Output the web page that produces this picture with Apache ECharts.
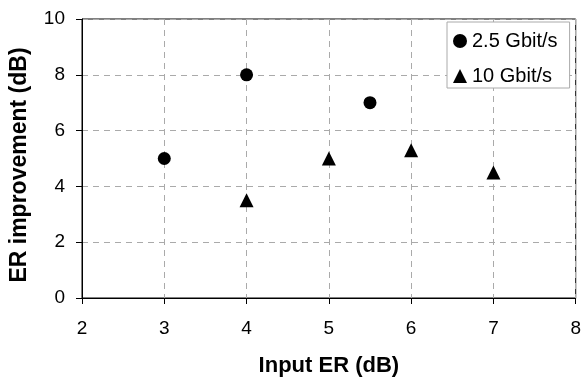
<!DOCTYPE html>
<html>
<head>
<meta charset="utf-8">
<script src="https://cdn.jsdelivr.net/npm/echarts@6/dist/echarts.min.js"></script>
<style>html,body{margin:0;padding:0;background:#fff}#c{width:584px;height:382px}</style>
</head>
<body>
<div id="c"></div>
<script>
const seriesNames = ['2.5 Gbit/s', '10 Gbit/s'];
const inputER_25 = [3, 4, 5.5];
const improvement_25 = [5, 8, 7];
const inputER_10 = [4, 5, 6, 7];
const improvement_10 = [3.5, 5.0, 5.3, 4.5];
const xTitle = 'Input ER (dB)';
const yTitle = 'ER improvement (dB)';

const font = 'Liberation Sans, Arial, sans-serif';
const chart = echarts.init(document.getElementById('c'), null, {renderer: 'canvas'});
const zip = (a, b) => a.map((v, i) => [v, b[i]]);
chart.setOption({
  animation: false,
  backgroundColor: '#fff',
  grid: {left: 81, top: 19, right: 5, bottom: 83, show: true, borderColor: '#000', borderWidth: 1, backgroundColor: 'transparent'},
  legend: {
    orient: 'vertical', left: 447, top: 22,
    backgroundColor: '#fff', borderColor: '#aaa', borderWidth: 1,
    padding: [9, 12, 2, 6], itemGap: 15, itemWidth: 14, itemHeight: 14,
    textStyle: {fontFamily: font, fontSize: 20, color: '#000'},
    itemStyle: {color: '#000', opacity: 1},
    data: [{name: seriesNames[0], icon: 'circle'}, {name: seriesNames[1], icon: 'triangle'}]
  },
  xAxis: {
    type: 'value', min: 2, max: 8, interval: 1,
    name: xTitle, nameLocation: 'middle', nameGap: 57,
    nameTextStyle: {fontFamily: font, fontSize: 22, fontWeight: 'bold', color: '#000'},
    axisLine: {show: true, onZero: false, lineStyle: {color: '#000', width: 1}},
    axisTick: {show: true, length: 6, inside: false, lineStyle: {color: '#000'}},
    axisLabel: {fontFamily: font, fontSize: 19, color: '#000', margin: 21},
    splitLine: {show: true, lineStyle: {color: '#aaa', type: [6, 5], width: 1}}
  },
  yAxis: {
    type: 'value', min: 0, max: 10, interval: 2,
    name: yTitle, nameLocation: 'middle', nameGap: 51,
    nameTextStyle: {fontFamily: font, fontSize: 23, fontWeight: 'bold', color: '#000', padding: [0, 13, 0, 0]},
    axisLine: {show: true, onZero: false, lineStyle: {color: '#000', width: 1}},
    axisTick: {show: true, length: 6, inside: false, lineStyle: {color: '#000'}},
    axisLabel: {fontFamily: font, fontSize: 19, color: '#000', margin: 17},
    splitLine: {show: true, lineStyle: {color: '#aaa', type: [6, 5], width: 1}}
  },
  series: [
    {name: seriesNames[0], type: 'scatter', symbol: 'circle', symbolSize: 13,
     itemStyle: {color: '#000', opacity: 1}, data: zip(inputER_25, improvement_25)},
    {name: seriesNames[1], type: 'scatter', symbol: 'triangle', symbolSize: 14,
     itemStyle: {color: '#000', opacity: 1}, data: zip(inputER_10, improvement_10)}
  ]
});
</script>
</body>
</html>
